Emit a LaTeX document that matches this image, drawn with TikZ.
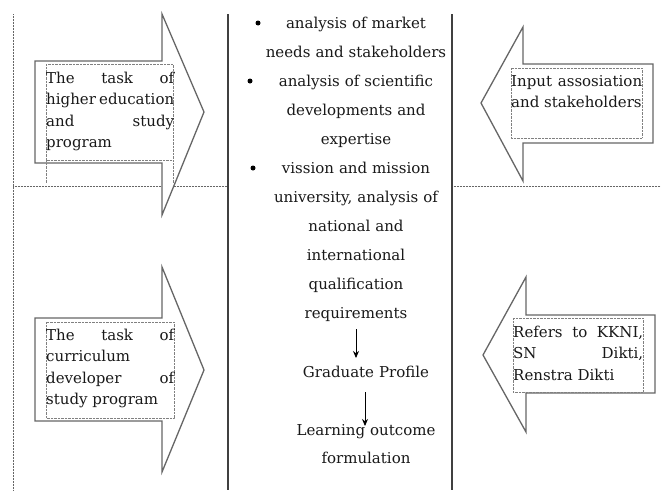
\documentclass[tikz,border=0pt]{standalone}
\usepackage{fontspec}
\setmainfont{DejaVu Serif}
\usetikzlibrary{arrows.meta}
\begin{document}
\begin{tikzpicture}[x=1pt,y=-1pt,
  arrowshape/.style={draw=black!60, line width=1.3pt, line join=miter, fill=white},
  guide/.style={draw=black!60, dash pattern=on 0.7pt off 0.8pt, line width=0.7pt},
  framebox/.style={draw=black!50, dash pattern=on 0.6pt off 0.8pt, line width=0.6pt},
  column/.style={draw=black!75, line width=1.3pt},
  boxtext/.style={anchor=base west, inner sep=0pt, text width=#1, align=justify,
    font=\fontsize{15}{21.6}\selectfont, text=black!90},
  itemtext/.style={anchor=base, inner sep=0pt, text width=190pt, align=center,
    font=\fontsize{15}{29}\selectfont, text=black!90},
  bulletdot/.style={circle, fill=black, inner sep=0pt, minimum size=5pt},
  flowtip/.style={draw=black, line width=0.9pt, -{Stealth[length=7pt,width=6pt]}}
]
\useasboundingbox (0,0) rectangle (661,490);
\fill[white] (0,0) rectangle (661,490);

% page grid
\draw[guide] (13,14) -- (13,490);
\draw[guide] (13,186) -- (228,186);
\draw[guide] (452,186) -- (661,186);
\draw[column] (228,14) -- (228,490);
\draw[column] (452,14) -- (452,490);

% block arrows
\draw[arrowshape] (35,61) -- (162,61) -- (162,14) -- (204,112) -- (162,215) -- (162,163) -- (35,163) -- cycle;
\draw[arrowshape] (35,318) -- (162,318) -- (162,267) -- (204,370) -- (162,472) -- (162,421) -- (35,421) -- cycle;
\draw[arrowshape] (653,64) -- (523,64) -- (523,27) -- (481,103) -- (523,181) -- (523,143) -- (653,143) -- cycle;
\draw[arrowshape] (655,315) -- (526,315) -- (526,277) -- (483,355) -- (526,432) -- (526,393) -- (655,393) -- cycle;

% text frames
\draw[framebox] (46,64) rectangle (173,160);
\draw[framebox] (46,160) -- (46,183);
\draw[framebox] (173,160) -- (173,183);
\draw[framebox] (46,322) rectangle (174,418);
\draw[framebox] (511,68) rectangle (642,138);
\draw[framebox] (513,318) rectangle (643,392);

% texts in the block arrows
\node[boxtext=128pt] (taskhe) at (46,83)
  {The task of\linebreak higher education\linebreak and study\linebreak program};
\node[boxtext=128pt] (taskcd) at (46,340)
  {The task of\linebreak curriculum\linebreak developer of\linebreak study program};
\node[boxtext=131pt] (input) at (511,86)
  {Input assosiation\linebreak and stakeholders};
\node[boxtext=130pt] (refers) at (513,337)
  {Refers to KKNI,\linebreak SN Dikti,\linebreak Renstra Dikti};

% centre column
\node[bulletdot] (b1) at (258,23) {};
\node[bulletdot] (b2) at (250,81) {};
\node[bulletdot] (b3) at (253,168) {};
\node[itemtext] (item1) at (356,28) {analysis of market\\needs and stakeholders};
\node[itemtext] (item2) at (356,86) {analysis of scientific\\developments and\\expertise};
\node[itemtext] (item3) at (356,173) {vission and mission\\university, analysis of\\national and\\international\\qualification\\requirements};
\node[itemtext] (grad) at (366,377) {Graduate Profile};
\node[itemtext, font=\fontsize{15}{28}\selectfont] (learn) at (366,435) {Learning outcome\\formulation};

\coordinate (f1s) at (356,329);
\coordinate (f1e) at (356,358);
\coordinate (f2s) at (365,392);
\coordinate (f2e) at (365,426);
\draw[flowtip] (f1s) -- (f1e);
\draw[flowtip] (f2s) -- (f2e);
\end{tikzpicture}
\end{document}
